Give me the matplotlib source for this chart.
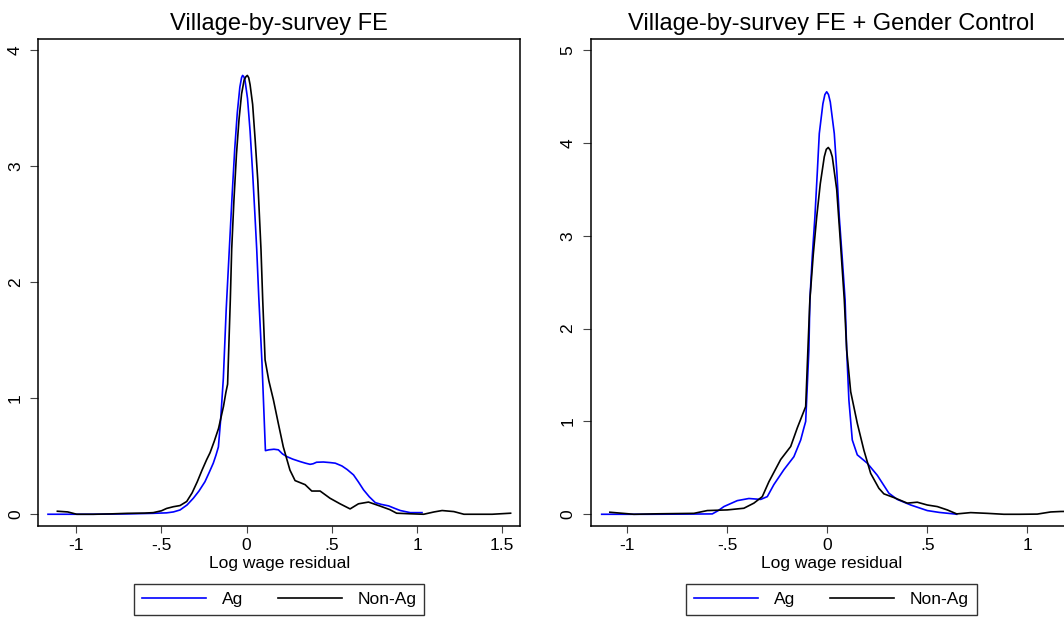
import numpy as np
import matplotlib
matplotlib.use('Agg')
import matplotlib.pyplot as plt

plt.rcParams['font.family'] = ['Liberation Sans', 'DejaVu Sans']

### data (kernel densities of log wage residuals)
# panel 1: village-by-survey FE
fe_ag_x = [-1.166, -0.9, -0.7, -0.55, -0.47, -0.43, -0.391, -0.35, -0.313, -0.28, -0.245,
           -0.22, -0.196, -0.18, -0.166, -0.153, -0.137, -0.12, -0.102, -0.085, -0.07,
           -0.055, -0.04, -0.03, -0.024, -0.017, -0.01, 0.005, 0.02, 0.035, 0.048, 0.059,
           0.071, 0.09, 0.11, 0.13, 0.16, 0.186, 0.21, 0.235, 0.27, 0.313, 0.345, 0.372,
           0.39, 0.41, 0.45, 0.49, 0.52, 0.559, 0.59, 0.627, 0.655, 0.686, 0.72, 0.755,
           0.79, 0.833, 0.87, 0.902, 0.96, 1.029]
fe_ag_y = [0.0, 0.0, 0.003, 0.008, 0.012, 0.02, 0.037, 0.08, 0.138, 0.2, 0.28,
           0.36, 0.44, 0.51, 0.58, 0.81, 1.17, 1.77, 2.28, 2.76, 3.15,
           3.46, 3.68, 3.76, 3.78, 3.77, 3.74, 3.58, 3.30, 2.94, 2.59, 2.28,
           1.87, 1.3, 0.548, 0.555, 0.56, 0.555, 0.52, 0.497, 0.475, 0.454, 0.44, 0.43,
           0.435, 0.448, 0.45, 0.445, 0.44, 0.416, 0.385, 0.339, 0.28, 0.21, 0.15, 0.10,
           0.085, 0.072, 0.05, 0.032, 0.014, 0.014]

fe_non_x = [-1.111, -1.05, -0.998, -0.9, -0.8, -0.7, -0.6, -0.548, -0.5, -0.47, -0.43,
            -0.391, -0.352, -0.32, -0.29, -0.262, -0.235, -0.215, -0.19, -0.165, -0.136,
            -0.122, -0.112, -0.096, -0.088, -0.075, -0.06, -0.045, -0.03, -0.015, -0.004,
            0.004, 0.012, 0.02, 0.035, 0.05, 0.065, 0.084, 0.094, 0.108, 0.13, 0.157,
            0.186, 0.215, 0.254, 0.284, 0.343, 0.382, 0.431, 0.489, 0.548, 0.607, 0.656,
            0.715, 0.784, 0.84, 0.88, 0.96, 1.039, 1.1, 1.147, 1.216, 1.275, 1.35, 1.441,
            1.549]
fe_non_y = [0.026, 0.02, 0.0, 0.0, 0.003, 0.008, 0.01, 0.014, 0.03, 0.05, 0.065,
            0.075, 0.11, 0.185, 0.28, 0.38, 0.47, 0.53, 0.63, 0.74, 0.93,
            1.05, 1.12, 1.85, 2.28, 2.7, 3.1, 3.4, 3.62, 3.74, 3.77,
            3.78, 3.76, 3.70, 3.53, 3.22, 2.88, 2.28, 1.85, 1.33, 1.15, 0.985,
            0.78, 0.58, 0.38, 0.29, 0.255, 0.20, 0.20, 0.138, 0.09, 0.046, 0.09,
            0.105, 0.07, 0.04, 0.009, 0.004, 0.0, 0.02, 0.032, 0.023, 0.0, 0.0, 0.0,
            0.009]

# panel 2: village-by-survey FE + gender control
gc_ag_x = [-1.128, -0.9, -0.7, -0.575, -0.545, -0.517, -0.45, -0.392, -0.333, -0.3,
           -0.267, -0.217, -0.167, -0.133, -0.117, -0.108, -0.092, -0.087, -0.075, -0.062,
           -0.05, -0.04, -0.022, -0.012, -0.003, 0.006, 0.015, 0.035, 0.048, 0.06, 0.075,
           0.089, 0.097, 0.108, 0.125, 0.15, 0.2, 0.25, 0.308, 0.35, 0.417, 0.5, 0.56,
           0.633, 0.647]
gc_ag_y = [0.0, 0.0, 0.002, 0.004, 0.04, 0.083, 0.147, 0.17, 0.16, 0.19,
           0.32, 0.48, 0.62, 0.80, 0.93, 1.0, 1.77, 2.31, 2.78, 3.2,
           3.68, 4.10, 4.42, 4.52, 4.55, 4.52, 4.44, 4.10, 3.68, 3.2, 2.75,
           2.31, 1.77, 1.23, 0.80, 0.64, 0.55, 0.42, 0.227, 0.16, 0.10, 0.04, 0.02,
           0.004, 0.0]

gc_non_x = [-1.087, -0.967, -0.85, -0.667, -0.6, -0.5, -0.417, -0.367, -0.325, -0.292,
            -0.233, -0.183, -0.15, -0.108, -0.097, -0.087, -0.07, -0.053, -0.035, -0.015,
            -0.005, 0.005, 0.015, 0.025, 0.047, 0.065, 0.085, 0.097, 0.117, 0.15, 0.183,
            0.217, 0.258, 0.283, 0.333, 0.4, 0.45, 0.5, 0.55, 0.6, 0.647, 0.717, 0.8,
            0.883, 0.96, 1.05, 1.117, 1.167, 1.23]
gc_non_y = [0.022, 0.0, 0.005, 0.01, 0.04, 0.047, 0.065, 0.12, 0.19, 0.35,
            0.59, 0.73, 0.93, 1.16, 1.77, 2.31, 2.8, 3.2, 3.56, 3.85,
            3.93, 3.95, 3.92, 3.85, 3.5, 2.95, 2.31, 1.77, 1.32, 0.98, 0.69,
            0.44, 0.28, 0.22, 0.18, 0.12, 0.13, 0.10, 0.083, 0.047, 0.004, 0.018, 0.01,
            0.0, 0.0, 0.002, 0.025, 0.03, 0.032]

panels = [
    ('Village-by-survey FE', fe_ag_x, fe_ag_y, fe_non_x, fe_non_y,
     (-1.223, 1.604), (-0.101, 4.091), [0, 1, 2, 3, 4]),
    ('Village-by-survey FE + Gender Control', gc_ag_x, gc_ag_y, gc_non_x, gc_non_y,
     (-1.183, 1.2255), (-0.126, 5.115), [0, 1, 2, 3, 4, 5]),
]
xticks = [-1, -0.5, 0, 0.5, 1, 1.5]
xticklabels = ['-1', '-.5', '0', '.5', '1', '1.5']


def main():
    fig = plt.figure(figsize=(10.64, 6.18), dpi=100)
    lefts = [38.3 / 1064, 590.7 / 1064]
    for k, (title, ax_x, ax_y, nx, ny, xlim, ylim, yt) in enumerate(panels):
        ax = fig.add_axes([lefts[k], 0.1489, 0.4527, 0.7875])
        ax.plot(ax_x, ax_y, color='#0000ff', lw=1.2, label='Ag')
        ax.plot(nx, ny, color='black', lw=1.2, label='Non-Ag')
        # ticks first, limits after (set_xticks would widen the view)
        ax.set_xticks(xticks)
        ax.set_xticklabels(xticklabels)
        ax.set_yticks(yt)
        ax.set_yticklabels([str(v) for v in yt], rotation=90, va='center')
        ax.set_xlim(xlim)
        ax.set_ylim(ylim)
        ax.tick_params(axis='both', direction='out', length=5, width=0.8,
                       color='#444444', labelsize=12.5, pad=4)
        ax.tick_params(axis='y', length=6, pad=5)
        for s in ax.spines.values():
            s.set_linewidth(1.1)
            s.set_color('black')
        ax.set_title(title, fontsize=17, pad=7)
        ax.set_xlabel('Log wage residual', fontsize=12.5, labelpad=2)
        cx = lefts[k] + 0.4527 / 2
        leg = ax.legend(loc='center', bbox_to_anchor=(cx, 1 - 599.5 / 618),
                        bbox_transform=fig.transFigure, ncol=2, fontsize=12.5,
                        handlelength=3.7, handletextpad=0.9, columnspacing=2.0,
                        borderpad=0.45, fancybox=False, framealpha=1)
        leg.get_frame().set_edgecolor('#333333')
        leg.get_frame().set_linewidth(1.0)

    plt.savefig('out.png', dpi=100)


if __name__ == "__main__":
    main()
